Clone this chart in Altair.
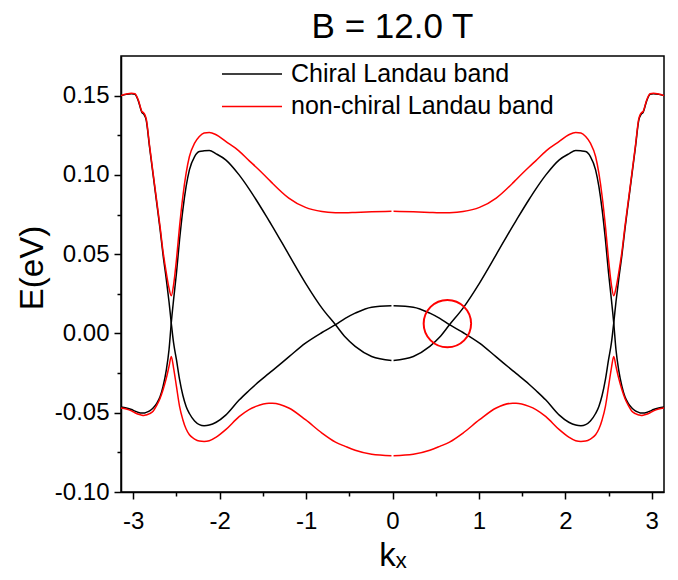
import altair as alt
import pandas as pd

# ---------------- data ----------------
k_left = [-3.1416, -3.08, -3.02, -2.98, -2.94, -2.90, -2.877, -2.85, -2.81, -2.77,
          -2.73, -2.69, -2.655, -2.617, -2.586, -2.56, -2.533, -2.50, -2.464, -2.426,
          -2.388, -2.35, -2.29, -2.235, -2.18, -2.12, -2.04, -1.93, -1.775, -1.66,
          -1.58, -1.43, -1.39, -1.20, -1.007, -0.816, -0.66, -0.547, -0.432, -0.241,
          -0.012]
k_right = [0.012, 0.241, 0.432, 0.547, 0.66, 0.816, 1.007, 1.20, 1.39, 1.43,
           1.58, 1.66, 1.775, 1.93, 2.04, 2.12, 2.18, 2.235, 2.29, 2.35,
           2.388, 2.426, 2.464, 2.50, 2.533, 2.56, 2.586, 2.617, 2.655, 2.69,
           2.73, 2.77, 2.81, 2.85, 2.877, 2.90, 2.94, 2.98, 3.02, 3.08,
           3.1416]

# chiral band, branch A
chiral_a_left = [0.1500, 0.1508, 0.1512, 0.1508, 0.1465, 0.1395, 0.1382, 0.1345, 0.1170, 0.1000,
                 0.0830, 0.0660, 0.0495, 0.0340, 0.0200, 0.0066, -0.0060, -0.0165, -0.0290, -0.0390,
                 -0.0460, -0.0505, -0.0552, -0.0575, -0.0582, -0.0578, -0.0560, -0.0515, -0.0420, -0.0360,
                 -0.0320, -0.0252, -0.0234, -0.0148, -0.0061, 0.0006, 0.0055, 0.0095, 0.0128, 0.0166,
                 0.0175]
chiral_a_right = [0.0175, 0.0166, 0.0128, 0.0095, 0.0055, 0.0006, -0.0061, -0.0148, -0.0234, -0.0252,
                  -0.0320, -0.0360, -0.0420, -0.0515, -0.0560, -0.0578, -0.0582, -0.0575, -0.0552, -0.0505,
                  -0.0460, -0.0390, -0.0290, -0.0165, -0.0060, 0.0066, 0.0200, 0.0340, 0.0495, 0.0660,
                  0.0830, 0.1000, 0.1170, 0.1345, 0.1382, 0.1395, 0.1465, 0.1508, 0.1512, 0.1508,
                  0.1500]
# chiral band, branch B
chiral_b_left = [-0.0464, -0.0470, -0.0480, -0.0490, -0.0498, -0.0502, -0.0502, -0.0498, -0.0488, -0.0470,
                 -0.0442, -0.0400, -0.0334, -0.0229, -0.0103, 0.0066, 0.0213, 0.0381, 0.0591, 0.0780,
                 0.0927, 0.1032, 0.1116, 0.1148, 0.1152, 0.1154, 0.1133, 0.1095, 0.1000, 0.0912,
                 0.0845, 0.0712, 0.0676, 0.0497, 0.0318, 0.0160, 0.0055, -0.0023, -0.0082, -0.0145,
                 -0.0170]
chiral_b_right = [-0.0170, -0.0145, -0.0082, -0.0023, 0.0055, 0.0160, 0.0318, 0.0497, 0.0676, 0.0712,
                  0.0845, 0.0912, 0.1000, 0.1095, 0.1133, 0.1154, 0.1152, 0.1148, 0.1116, 0.1032,
                  0.0927, 0.0780, 0.0591, 0.0381, 0.0213, 0.0066, -0.0103, -0.0229, -0.0334, -0.0400,
                  -0.0442, -0.0470, -0.0488, -0.0498, -0.0502, -0.0502, -0.0498, -0.0490, -0.0480, -0.0470,
                  -0.0464]
# non-chiral band, upper
nonchiral_up_left = [0.1500, 0.1510, 0.1515, 0.1512, 0.1470, 0.1400, 0.1390, 0.1355, 0.1180, 0.1010,
                     0.0843, 0.0675, 0.0517, 0.0381, 0.0286, 0.0238, 0.0307, 0.0465, 0.0675, 0.0864,
                     0.1011, 0.1116, 0.1200, 0.1242, 0.1264, 0.1268, 0.1253, 0.1211, 0.1150, 0.1090,
                     0.1050, 0.0970, 0.0948, 0.0854, 0.0795, 0.0769, 0.0762, 0.0761, 0.0763, 0.0767,
                     0.0771]
nonchiral_up_right = [0.0771, 0.0767, 0.0763, 0.0761, 0.0762, 0.0769, 0.0795, 0.0854, 0.0948, 0.0970,
                      0.1050, 0.1090, 0.1150, 0.1211, 0.1253, 0.1268, 0.1264, 0.1242, 0.1200, 0.1116,
                      0.1011, 0.0864, 0.0675, 0.0465, 0.0307, 0.0238, 0.0286, 0.0381, 0.0517, 0.0675,
                      0.0843, 0.1010, 0.1180, 0.1355, 0.1390, 0.1400, 0.1470, 0.1512, 0.1515, 0.1510,
                      0.1500]
# non-chiral band, lower
nonchiral_lo_left = [-0.0470, -0.0476, -0.0488, -0.0500, -0.0510, -0.0516, -0.0517, -0.0514, -0.0506, -0.0490,
                     -0.0455, -0.0410, -0.0355, -0.0282, -0.0208, -0.0145, -0.0218, -0.0334, -0.0460, -0.0544,
                     -0.0603, -0.0639, -0.0666, -0.0679, -0.0681, -0.0677, -0.0654, -0.0607, -0.0525, -0.0480,
                     -0.0460, -0.0440, -0.0440, -0.0470, -0.0544, -0.0628, -0.0685, -0.0712, -0.0737, -0.0762,
                     -0.0771]
nonchiral_lo_right = [-0.0771, -0.0762, -0.0737, -0.0712, -0.0685, -0.0628, -0.0544, -0.0470, -0.0440, -0.0440,
                      -0.0460, -0.0480, -0.0525, -0.0607, -0.0654, -0.0677, -0.0681, -0.0679, -0.0666, -0.0639,
                      -0.0603, -0.0544, -0.0460, -0.0334, -0.0218, -0.0145, -0.0208, -0.0282, -0.0355, -0.0410,
                      -0.0455, -0.0490, -0.0506, -0.0514, -0.0517, -0.0516, -0.0510, -0.0500, -0.0488, -0.0476,
                      -0.0470]

# marked crossing point (red circle)
circle_k = [0.635]
circle_E = [0.0062]

band_names = ["Chiral Landau band", "non-chiral Landau band"]
band_colors = ["#000000", "#ff0000"]

x_ticks = [-3, -2.5, -2, -1.5, -1, -0.5, 0, 0.5, 1, 1.5, 2, 2.5, 3]
y_ticks = [-0.1, -0.075, -0.05, -0.025, 0, 0.025, 0.05, 0.075, 0.1, 0.125, 0.15]

# ---------------- table ----------------
series = [
    ("chiral_a_L", band_names[0], k_left, chiral_a_left),
    ("chiral_a_R", band_names[0], k_right, chiral_a_right),
    ("chiral_b_L", band_names[0], k_left, chiral_b_left),
    ("chiral_b_R", band_names[0], k_right, chiral_b_right),
    ("nonchiral_up_L", band_names[1], k_left, nonchiral_up_left),
    ("nonchiral_up_R", band_names[1], k_right, nonchiral_up_right),
    ("nonchiral_lo_L", band_names[1], k_left, nonchiral_lo_left),
    ("nonchiral_lo_R", band_names[1], k_right, nonchiral_lo_right),
]
rows = []
for name, band, ks, es in series:
    for kv, ev in zip(ks, es):
        rows.append({"k": kv, "E": ev, "curve": name, "band": band})
df = pd.DataFrame(rows)
circle_df = pd.DataFrame({"k": circle_k, "E": circle_E})

FONT = "Liberation Sans"
MINUS = "\u2212"

x_minor = "datum.value % 1 != 0"
y_minor = "abs(datum.value*20 - round(datum.value*20)) > 0.1"

x_enc = alt.X(
    "k:Q",
    scale=alt.Scale(domain=[-3.1416, 3.1416], nice=False, zero=False),
    axis=alt.Axis(
        values=x_ticks,
        tickSize={"condition": {"test": x_minor, "value": 4}, "value": 7},
        labelExpr=f"{x_minor} ? '' : '' + datum.value",
        labelFontSize=24, labelPadding=10, labelFlush=False, labelOverlap=False,
        title="k\u2093", titleFontSize=33, titleY=73, titleBaseline="alphabetic",
    ),
)
y_enc = alt.Y(
    "E:Q",
    scale=alt.Scale(domain=[-0.1, 0.175], nice=False, zero=False),
    axis=alt.Axis(
        values=y_ticks, format=".2f",
        tickSize={"condition": {"test": y_minor, "value": 4}, "value": 7},
        labelExpr=f"{y_minor} ? '' : replace(datum.label, '{MINUS}', '-')",
        labelFontSize=24, labelPadding=5, labelFlush=False, labelOverlap=False,
        title="E(eV)", titleFontSize=33, titleX=-79, titleY=211.5,
        titleAlign="center", titleBaseline="alphabetic", titleAngle=270,
    ),
)


def legend_at(y):
    return alt.Legend(
        orient="none", legendX=100, legendY=y, direction="vertical",
        symbolType="stroke", symbolSize=3600, symbolStrokeWidth=1.5,
        labelFontSize=25, labelFont=FONT, labelColor="black", labelOffset=8,
        labelLimit=400, padding=0, title=None,
    )


def band_layer(i, legend_y):
    return (
        alt.Chart(df)
        .transform_filter(alt.datum.band == band_names[i])
        .mark_line(strokeWidth=1.5, interpolate="monotone")
        .encode(
            x=x_enc, y=y_enc, detail="curve:N",
            color=alt.Color(
                "band:N",
                scale=alt.Scale(domain=[band_names[i]], range=[band_colors[i]]),
                legend=legend_at(legend_y),
            ),
        )
    )


black = band_layer(0, -13)
red = band_layer(1, 19.4)
circle = alt.Chart(circle_df).mark_point(
    shape="circle", size=2250, filled=False, color="#ff0000", strokeWidth=2, opacity=1
).encode(x=x_enc, y=y_enc)

chart = (
    alt.layer(black, red, circle)
    .resolve_scale(color="independent")
    .properties(
        width=543, height=436,
        title=alt.TitleParams(
            "B = 12.0 T", fontSize=35, font=FONT, fontWeight="normal",
            anchor="middle", baseline="alphabetic", offset=-30, color="black",
        ),
        padding={"left": 121, "top": 56, "right": 14, "bottom": 88},
        autosize=alt.AutoSizeParams(type="none"),
    )
    .configure_view(stroke="black", strokeWidth=1.5)
    .configure_axis(
        grid=False, domainColor="black", domainWidth=1.5, tickColor="black", tickWidth=1.5,
        labelColor="black", titleColor="black", labelFont=FONT, titleFont=FONT,
        titleFontWeight="normal",
    )
)

chart.save("out.html", embed_options={"renderer": "svg", "actions": False})
